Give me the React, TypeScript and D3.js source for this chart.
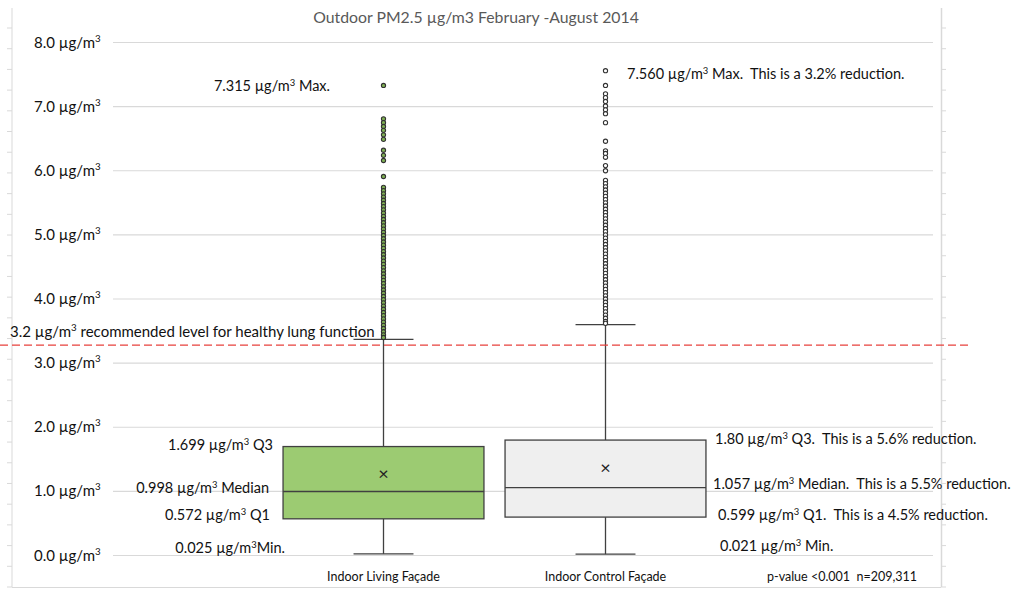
import React from "react";
import * as d3 from "d3";

const categories = ["Indoor Living Façade", "Indoor Control Façade"];
const minV = [0.025, 0.021];
const q1V = [0.572, 0.599];
const medV = [0.998, 1.057];
const q3V = [1.699, 1.80];
const whiskerHi = [3.37, 3.6];
const meanV = [1.27, 1.35];
const boxFills = ["#9ccb72", "#efefef"];
const outlierFills = ["#7fb054", "#ffffff"];

const livingOutliers = [
  7.33, 6.81, 6.75, 6.69, 6.63, 6.56, 6.49, 6.32, 6.24, 6.16, 5.91,
  5.74, 5.69, 5.64, 5.59, 5.54, 5.49, 5.44, 5.39, 5.34, 5.29, 5.24, 5.19,
  5.14, 5.09, 5.04, 4.99, 4.94, 4.89, 4.84, 4.79, 4.74, 4.69, 4.64, 4.59,
  4.54, 4.49, 4.44, 4.39, 4.34, 4.29, 4.24, 4.19, 4.14, 4.09, 4.04, 3.99,
  3.94, 3.89, 3.84, 3.79, 3.74, 3.69, 3.64, 3.59, 3.54, 3.49, 3.44, 3.40,
];
const controlOutliers = [
  7.56, 7.33, 7.2, 7.14, 7.08, 7.01, 6.95, 6.89, 6.75, 6.46, 6.31, 6.27, 6.21,
  6.08, 6.0, 5.85, 5.8, 5.75, 5.7, 5.65, 5.6, 5.55, 5.5, 5.45, 5.4, 5.35,
  5.3, 5.25, 5.2, 5.15, 5.1, 5.05, 5.0, 4.95, 4.9, 4.85, 4.8, 4.75, 4.7,
  4.65, 4.6, 4.55, 4.5, 4.45, 4.4, 4.35, 4.3, 4.25, 4.2, 4.15, 4.1, 4.05,
  4.0, 3.95, 3.9, 3.85, 3.8, 3.75, 3.7, 3.65, 3.62,
];
const outliers = [livingOutliers, controlOutliers];

const yTicks = [0, 1, 2, 3, 4, 5, 6, 7, 8];
const recommended = 3.28;

const leftNotes = [
  { v: 7.315, pre: "7.315 µg/m", post: " Max.", dy: 0 },
  { v: 1.699, pre: "1.699 µg/m", post: " Q3", dy: -2 },
  { v: 0.998, pre: "0.998 µg/m", post: " Median", dy: -4 },
  { v: 0.572, pre: "0.572 µg/m", post: " Q1", dy: -4 },
  { v: 0.025, pre: "0.025 µg/m", post: "Min.", dy: -6 },
];
const rightNotes = [
  { v: 7.56, pre: "7.560 µg/m", post: " Max.  This is a 3.2% reduction.", dy: 3 },
  { v: 1.8, pre: "1.80 µg/m", post: " Q3.  This is a 5.6% reduction.", dy: -1 },
  { v: 1.057, pre: "1.057 µg/m", post: " Median.  This is a 5.5% reduction.", dy: -4 },
  { v: 0.599, pre: "0.599 µg/m", post: " Q1.  This is a 4.5% reduction.", dy: -2 },
  { v: 0.021, pre: "0.021 µg/m", post: " Min.", dy: -8 },
];
const rightNoteX = [627, 715, 713, 718, 720];
const leftNoteEnd = [330, 273, 269, 270, 285];

const W = 1024;
const H = 589;
const FONT = "Lato, 'Open Sans', sans-serif";
const PRE = { whiteSpace: "pre" as const };

function Sup({ pre, post }: { pre: string; post: string }) {
  return (
    <>
      {pre}
      <tspan baselineShift="super" fontSize="0.65em">3</tspan>
      {post}
    </>
  );
}

export default function App() {
  const y = d3.scaleLinear().domain([0, 8]).range([555.5, 42.5]);
  const x = d3.scaleBand<string>().domain(categories).range([272.5, 716.5]).padding(0);
  const bw = x.bandwidth();
  const boxW = bw * 0.905;
  const capW = bw * 0.27;
  const frame = d3.scaleLinear().domain([0, 27]).range([587, 28]);
  const frameTicks = d3.range(0, 28);

  return (
    <svg width={W} height={H} style={{ position: "absolute", left: 0, top: 0 }} fontFamily={FONT}>
      <rect width={W} height={H} fill="#fff" />
      {/* frame */}
      <line x1={12} x2={12} y1={8} y2={587} stroke="#d9d9d9" />
      <line x1={941.5} x2={941.5} y1={8} y2={587} stroke="#d9d9d9" strokeWidth={1.5} />
      <line x1={12} x2={941} y1={587.5} y2={587.5} stroke="#d9d9d9" />
      {frameTicks.map((t) => (
        <g key={t}>
          <line x1={7} x2={12} y1={frame(t)} y2={frame(t)} stroke="#d9d9d9" />
          <line x1={941} x2={946} y1={frame(t)} y2={frame(t)} stroke="#d9d9d9" />
        </g>
      ))}
      {/* title */}
      <text x={476} y={23} textAnchor="middle" fontSize={15.8} fill="#595959">
        Outdoor PM2.5 µg/m3 February -August 2014
      </text>
      {/* grid + y labels */}
      {yTicks.map((t) => (
        <g key={t}>
          <line x1={113} x2={933} y1={y(t)} y2={y(t)} stroke="#d9d9d9" strokeWidth={1.2} />
          <text x={34} y={y(t) + 5} fontSize={15} fill="#111">
            <Sup pre={`${t.toFixed(1)} µg/m`} post="" />
          </text>
        </g>
      ))}
      {/* boxes */}
      {categories.map((c, i) => {
        const cx = (x(c) as number) + bw / 2;
        return (
          <g key={c}>
            <line x1={cx} x2={cx} y1={y(whiskerHi[i])} y2={y(q3V[i])} stroke="#404040" strokeWidth={1.3} />
            <line x1={cx} x2={cx} y1={y(q1V[i])} y2={y(minV[i])} stroke="#404040" strokeWidth={1.3} />
            <line x1={cx - capW / 2} x2={cx + capW / 2} y1={y(whiskerHi[i])} y2={y(whiskerHi[i])} stroke="#404040" strokeWidth={1.3} />
            <line x1={cx - capW / 2} x2={cx + capW / 2} y1={y(minV[i])} y2={y(minV[i])} stroke="#404040" strokeWidth={1.3} />
            <rect x={cx - boxW / 2} y={y(q3V[i])} width={boxW} height={y(q1V[i]) - y(q3V[i])} fill={boxFills[i]} stroke="#404040" strokeWidth={1.3} />
            <line x1={cx - boxW / 2} x2={cx + boxW / 2} y1={y(medV[i])} y2={y(medV[i])} stroke="#404040" strokeWidth={1.3} />
            <text x={cx} y={y(meanV[i]) + 5.5} textAnchor="middle" fontSize={18} fill="#222">×</text>
            {outliers[i].map((v, j) => (
              <circle key={j} cx={cx} cy={y(v)} r={2.1} fill={outlierFills[i]} stroke="#333" strokeWidth={1.1} />
            ))}
            <text x={cx} y={581} textAnchor="middle" fontSize={12.5} fill="#111">{c}</text>
          </g>
        );
      })}
      {/* recommended line */}
      <line x1={0} x2={970} y1={y(recommended)} y2={y(recommended)} stroke="#e8413c" strokeWidth={1.3} strokeDasharray="8,4" />
      <text x={10} y={y(recommended) - 8} fontSize={15} fill="#111" style={PRE}>
        <Sup pre="3.2 µg/m" post=" recommended level for healthy lung function" />
      </text>
      {/* annotations */}
      {leftNotes.map((n, i) => (
        <text key={i} x={leftNoteEnd[i]} y={y(n.v) + n.dy + 5} textAnchor="end" fontSize={14.5} fill="#111" style={PRE}>
          <Sup pre={n.pre} post={n.post} />
        </text>
      ))}
      {rightNotes.map((n, i) => (
        <text key={i} x={rightNoteX[i]} y={y(n.v) + n.dy + 5} fontSize={14.5} fill="#111" style={PRE}>
          <Sup pre={n.pre} post={n.post} />
        </text>
      ))}
      <text x={767} y={581} fontSize={12.5} fill="#111" style={PRE}>p-value &lt;0.001  n=209,311</text>
    </svg>
  );
}
